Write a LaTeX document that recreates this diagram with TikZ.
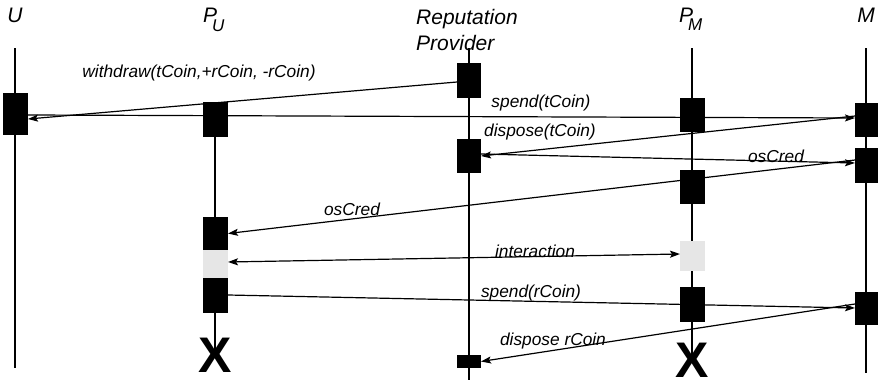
\documentclass[tikz,border=0pt]{standalone}
\usepackage{fontspec}
\setmainfont{Liberation Sans}
\usetikzlibrary{arrows.meta}
\definecolor{idlegrey}{HTML}{E6E6E6}
\begin{document}
\begin{tikzpicture}[x=1pt,y=-1pt,
  life/.style={line width=1.2pt},
  actbox/.style={fill=black, draw=none, minimum width=25pt, inner sep=0pt, outer sep=0pt},
  idlebox/.style={fill=idlegrey, draw=none, minimum width=25pt, inner sep=0pt, outer sep=0pt},
  msg/.style={line width=1.2pt, -{Stealth[length=10pt,width=7pt,inset=2pt]}},
  dmsg/.style={line width=1.2pt, {Stealth[length=10pt,width=7pt,inset=2pt]}-{Stealth[length=10pt,width=7pt,inset=2pt]}},
  lbl/.style={font=\fontsize{17.3}{20}\selectfont\itshape, inner sep=0pt, anchor=base},
  hdr/.style={font=\fontsize{21}{26}\selectfont\itshape, inner sep=0pt},
  subhdr/.style={font=\fontsize{17}{20}\selectfont\itshape, inner sep=0pt},
  killx/.style={font=\fontsize{50}{50}\selectfont\bfseries, inner sep=0pt}]
\useasboundingbox (0,0) rectangle (878,380);

% headers
\node[hdr, anchor=base] (hU) at (15,23) {U};
\node[hdr, anchor=base west] (hPU) at (203,22) {P};
\node[subhdr, anchor=base west] (hPUs) at (212,31) {U};
\node[hdr, anchor=base west, align=left] (hRP) at (416,50) {Reputation\\Provider};
\node[hdr, anchor=base west] (hPM) at (679,22) {P};
\node[subhdr, anchor=base west] (hPMs) at (688,30) {M};
\node[hdr, anchor=base] (hM) at (866,23) {M};

% lifeline end points
\coordinate (uTop) at (15,48);  \coordinate (uBot) at (15,368);
\coordinate (rTop) at (469,48); \coordinate (rBot) at (469,380);
\coordinate (pmTop) at (692,48);
\coordinate (mTop) at (866,48); \coordinate (mBot) at (866,373);
\coordinate (puEnd) at (215,350);
\coordinate (pmEnd) at (692,355);

% lifelines
\draw[life] (uTop) -- (uBot);
\draw[life] (rTop) -- (rBot);
\draw[life] (mTop) -- (mBot);
\draw[life] (215,120) -- (puEnd);
\draw[life] (pmTop) -- (pmEnd);

% activation boxes
\node[actbox, minimum height=42pt] (U1) at (15.5,114) {};
\node[actbox, minimum height=35pt] (PU1) at (215.5,119.5) {};
\node[actbox, minimum height=33pt] (PU2) at (215.5,233.5) {};
\node[idlebox, minimum height=28pt] (PUg) at (215.5,264) {};
\node[actbox, minimum height=35pt] (PU3) at (215.5,295.5) {};
\node[actbox, minimum width=24pt, minimum height=35pt] (RP1) at (469,80.5) {};
\node[actbox, minimum width=24pt, minimum height=34pt] (RP2) at (469,156) {};
\node[actbox, minimum width=24pt, minimum height=13pt] (RP3) at (469,361.5) {};
\node[actbox, minimum height=34pt] (PM1) at (692.5,115) {};
\node[actbox, minimum height=34pt] (PM2) at (692.5,187) {};
\node[idlebox, minimum height=30pt] (PMg) at (692.5,256) {};
\node[actbox, minimum height=35pt] (PM3) at (692.5,304.5) {};
\node[actbox, minimum height=34pt] (M1) at (867.5,120) {};
\node[actbox, minimum height=35pt] (M2) at (867.5,165.5) {};
\node[actbox, minimum height=33pt] (M3) at (867.5,308.5) {};

% termination marks
\node[killx] (xPU) at (215,355) {X};
\node[killx] (xPM) at (692,360) {X};

% messages
\draw[msg] ([yshift=-1.5pt]RP1.west) -- ([yshift=-5pt]U1.east);
\draw[msg] ([yshift=-1pt]U1.east) -- ([yshift=2pt]M1.west);
\draw[msg] ([yshift=4pt]M1.west) -- (RP2.east);
\draw[msg] ([yshift=2pt]RP2.east) -- ([yshift=2.5pt]M2.west);
\draw[msg] ([yshift=5.5pt]M2.west) -- ([yshift=0pt]PU2.east);
\draw[dmsg] ([yshift=2pt]PUg.east) -- ([yshift=2pt]PMg.west);
\draw[msg] ([yshift=0.5pt]PU3.east) -- ([yshift=0.5pt]M3.west);
\draw[msg] ([yshift=4.5pt]M3.west) -- (RP3.east);

% message labels
\node[lbl] (l1) at (199,77) {withdraw(tCoin,+rCoin, -rCoin)};
\node[lbl] (l2) at (541,107) {spend(tCoin)};
\node[lbl] (l3) at (540,136) {dispose(tCoin)};
\node[lbl] (l4) at (776,162) {osCred};
\node[lbl] (l5) at (352,215) {osCred};
\node[lbl] (l6) at (535,257) {interaction};
\node[lbl] (l7) at (531,297) {spend(rCoin)};
\node[lbl] (l8) at (553,345) {dispose rCoin};
\end{tikzpicture}
\end{document}
